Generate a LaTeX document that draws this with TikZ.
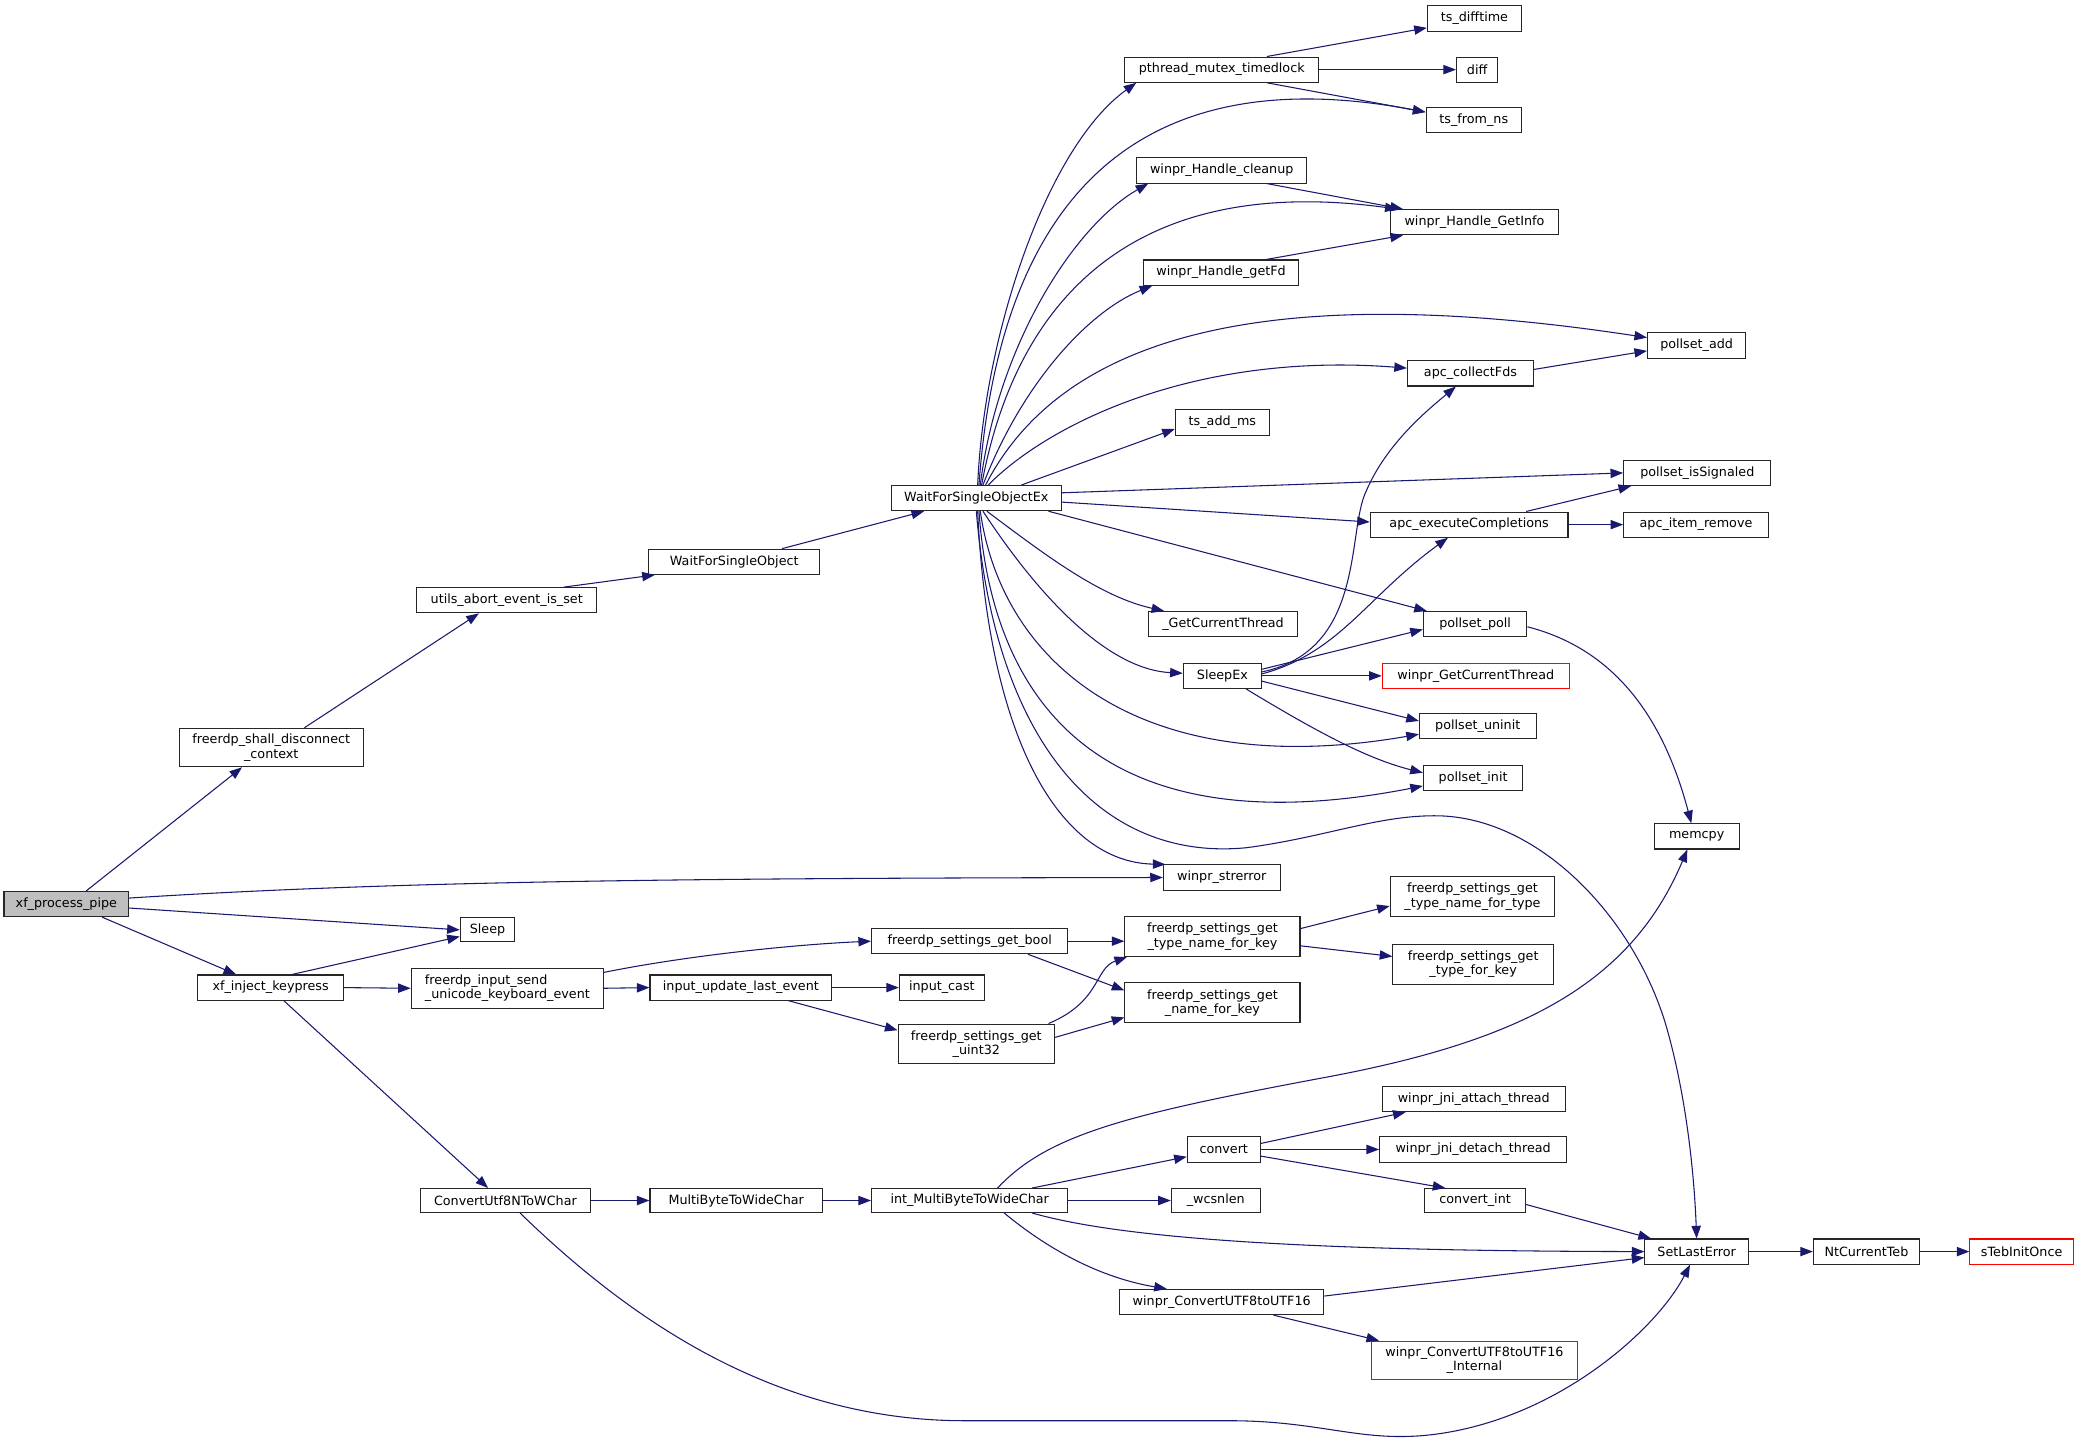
\documentclass[tikz,border=0pt]{standalone}
\usepackage{fontspec}
\setmainfont{DejaVu Sans}
\usetikzlibrary{arrows.meta}
\definecolor{edgec}{RGB}{25,25,112}
\definecolor{redc}{RGB}{255,0,0}
\definecolor{fillg}{RGB}{191,191,191}
\tikzset{
 box/.style={draw=black!85, line width=0.8pt, inner sep=0pt, align=center, font=\fontsize{9.6}{10.8}\selectfont, fill=white},
 redbox/.style={draw=redc},
 edge/.style={draw=edgec, line width=0.8pt, -{Triangle[length=9.5pt,width=7pt]}},
}
\newcommand\nd[7][]{\node[box,#1,minimum width={(#4-#3)*1pt},minimum height={(#6-#5)*1pt}] (#2) at ({(#3+#4)/2},{(#5+#6)/2}) {#7};}
\begin{document}
\begin{tikzpicture}[x=1pt,y=-1pt]
\path[use as bounding box, fill=white] (0,0) rectangle (1568,1086);
% nodes
\nd[fill=fillg]{pipe}{3}{97}{672}{691}{xf\_process\_pipe}
\nd{shall}{135}{274}{549}{578}{freerdp\_shall\_disconnect\\\_context}
\nd{utils}{314}{450}{443}{462}{utils\_abort\_event\_is\_set}
\nd{wfso}{489}{618}{414}{433}{WaitForSingleObject}
\nd{wfsoex}{672}{800}{366}{385}{WaitForSingleObjectEx}
\nd{ptml}{848}{994}{43}{62}{pthread\_mutex\_timedlock}
\nd{tsdiff}{1076}{1147}{4}{24}{ts\_difftime}
\nd{diff}{1098}{1129}{43}{62}{diff}
\nd{tsfrom}{1075}{1147}{81}{100}{ts\_from\_ns}
\nd{hclean}{857}{985}{119}{138}{winpr\_Handle\_cleanup}
\nd{hinfo}{1048}{1175}{158}{177}{winpr\_Handle\_GetInfo}
\nd{hgetfd}{862}{979}{196}{215}{winpr\_Handle\_getFd}
\nd{padd}{1242}{1316}{251}{270}{pollset\_add}
\nd{collect}{1061}{1156}{272}{291}{apc\_collectFds}
\nd{tsadd}{886}{957}{309}{328}{ts\_add\_ms}
\nd{psig}{1224}{1335}{347}{366}{pollset\_isSignaled}
\nd{apcexec}{1033}{1182}{386}{405}{apc\_executeCompletions}
\nd{apcrem}{1224}{1333}{386}{405}{apc\_item\_remove}
\nd{gct}{866}{978}{461}{480}{\_GetCurrentThread}
\nd{ppoll}{1073}{1151}{461}{480}{pollset\_poll}
\nd{sleepex}{892}{951}{500}{519}{SleepEx}
\nd[redbox]{wgct}{1042}{1183}{500}{519}{winpr\_GetCurrentThread}
\nd{puninit}{1070}{1158}{538}{557}{pollset\_uninit}
\nd{pinit}{1073}{1148}{577}{596}{pollset\_init}
\nd{memcpy}{1247}{1311}{621}{640}{memcpy}
\nd{strerror}{877}{965}{652}{671}{winpr\_strerror}
\nd{sleep}{347}{388}{692}{710}{Sleep}
\nd{inject}{149}{259}{735}{754}{xf\_inject\_keypress}
\nd[align=left]{sendkb}{310}{455}{730}{760}{freerdp\_input\_send\\\_unicode\_keyboard\_event}
\nd{update}{490}{627}{735}{754}{input\_update\_last\_event}
\nd{getbool}{657}{805}{700}{719}{freerdp\_settings\_get\_bool}
\nd{inputcast}{678}{742}{735}{754}{input\_cast}
\nd{getuint}{677}{795}{772}{802}{freerdp\_settings\_get\\\_uint32}
\nd{tnfk}{848}{980}{691}{721}{freerdp\_settings\_get\\\_type\_name\_for\_key}
\nd{nfk}{848}{980}{741}{771}{freerdp\_settings\_get\\\_name\_for\_key}
\nd{tnft}{1048}{1172}{661}{691}{freerdp\_settings\_get\\\_type\_name\_for\_type}
\nd{tfk}{1050}{1171}{712}{742}{freerdp\_settings\_get\\\_type\_for\_key}
\nd{cu8}{317}{445}{896}{914}{ConvertUtf8NToWChar}
\nd{mbtwc}{490}{620}{896}{914}{MultiByteToWideChar}
\nd{imbtwc}{657}{805}{896}{914}{int\_MultiByteToWideChar}
\nd{attach}{1042}{1180}{819}{838}{winpr\_jni\_attach\_thread}
\nd{convert}{895}{950}{857}{876}{convert}
\nd{detach}{1040}{1181}{857}{876}{winpr\_jni\_detach\_thread}
\nd{wcsnlen}{883}{950}{896}{914}{\_wcsnlen}
\nd{convint}{1074}{1150}{896}{914}{convert\_int}
\nd{sle}{1240}{1318}{934}{953}{SetLastError}
\nd{ntteb}{1367}{1447}{934}{953}{NtCurrentTeb}
\nd[redbox]{steb}{1485}{1563}{934}{953}{sTebInitOnce}
\nd{cu16}{844}{998}{972}{991}{winpr\_ConvertUTF8toUTF16}
\nd[redbox]{cu16i}{1034}{1189}{1011}{1040}{winpr\_ConvertUTF8toUTF16\\\_Internal}
% edges: left part
\draw[edge] ([xshift=15pt]pipe.north) -- ([xshift=-22pt]shall.south);
\draw[edge] ([yshift=4.5pt]pipe.east) .. controls (300,664) and (520,662) .. (strerror.west);
\draw[edge] ([yshift=-3pt]pipe.east) -- (sleep.west);
\draw[edge] ([xshift=27pt]pipe.south) -- ([xshift=-26pt]inject.north);
\draw[edge] ([xshift=25pt]shall.north) -- ([xshift=-21pt]utils.south);
\draw[edge] ([xshift=43pt]utils.north) -- ([xshift=5pt]wfso.south west);
\draw[edge] ([xshift=36pt]wfso.north) -- ([xshift=25pt]wfsoex.south west);
% WaitForSingleObjectEx fan up
\draw[edge] ([xshift=1pt]wfsoex.north) .. controls (742,250) and (790,110) .. ([xshift=9pt]ptml.south west);
\draw[edge] ([xshift=2pt]wfsoex.north) .. controls (752,170) and (840,40) .. ([yshift=6pt]tsfrom.west);
\draw[edge] ([xshift=3pt]wfsoex.north) .. controls (752,260) and (810,170) .. ([xshift=9pt]hclean.south west);
\draw[edge] ([xshift=4pt]wfsoex.north) .. controls (765,230) and (850,130) .. ([xshift=6pt]hinfo.north west);
\draw[edge] ([xshift=5pt]wfsoex.north) .. controls (770,290) and (820,235) .. ([xshift=7pt]hgetfd.south west);
\draw[edge] ([xshift=7pt]wfsoex.north) .. controls (800,255) and (950,210) .. ([yshift=6pt]padd.west);
\draw[edge] ([xshift=9pt]wfsoex.north) .. controls (790,320) and (900,265) .. ([yshift=4pt]collect.west);
\draw[edge] ([xshift=34pt]wfsoex.north) -- ([yshift=5pt]tsadd.south west);
\draw[edge] ([yshift=4pt]wfsoex.east) -- (psig.west);
\draw[edge] ([yshift=-3pt]wfsoex.east) -- ([yshift=2pt]apcexec.west);
\draw[edge] ([xshift=-10pt]wfsoex.south east) -- ([xshift=3pt]ppoll.north west);
% fan down
\draw[edge] ([xshift=8pt]wfsoex.south) .. controls (790,420) and (830,450) .. ([xshift=12pt]gct.north west);
\draw[edge] ([xshift=5pt]wfsoex.south) .. controls (790,460) and (840,505) .. ([yshift=2pt]sleepex.west);
\draw[edge] ([xshift=3pt]wfsoex.south) .. controls (755,500) and (860,590) .. ([yshift=-6pt]puninit.west);
\draw[edge] ([xshift=2pt]wfsoex.south) .. controls (748,530) and (830,640) .. ([yshift=-6pt]pinit.west);
\draw[edge] ([xshift=1pt]wfsoex.south) .. controls (745,560) and (800,650) .. ([xshift=2pt]strerror.north west);
\draw[edge] (wfsoex.south) .. controls (750,560) and (830,650) .. (940,639) .. controls (1000,631) and (1040,614) .. (1085,615) .. controls (1160,617) and (1230,690) .. (1255,770) .. controls (1270,820) and (1277,880) .. (sle.north);
% right upper
\draw[edge] ([xshift=34pt]ptml.north) -- ([yshift=-7pt]tsdiff.west);
\draw[edge] (ptml.east) -- (diff.west);
\draw[edge] ([xshift=34pt]ptml.south) -- ([yshift=6pt]tsfrom.west);
\draw[edge] ([xshift=34pt]hclean.south) -- ([xshift=10pt]hinfo.north west);
\draw[edge] ([xshift=34pt]hgetfd.north) -- ([xshift=10pt]hinfo.south west);
\draw[edge] ([yshift=3pt]collect.east) -- ([yshift=-4pt]padd.west);
\draw[edge] ([xshift=43pt]apcexec.north) -- ([xshift=6pt]psig.south west);
\draw[edge] (apcexec.east) -- (apcrem.west);
\draw[edge] ([yshift=-2pt]ppoll.east) .. controls (1220,490) and (1255,545) .. ([xshift=-4pt]memcpy.north);
% SleepEx
\draw[edge] ([yshift=3pt]sleepex.east) .. controls (1030,490) and (1015,400) .. (1030,370) .. controls (1045,335) and (1075,310) .. ([xshift=-11pt]collect.south);
\draw[edge] ([yshift=1.5pt]sleepex.east) .. controls (1010,492) and (1030,450) .. ([xshift=-16pt]apcexec.south);
\draw[edge] ([yshift=5pt]sleepex.east) -- ([yshift=-4pt]ppoll.west);
\draw[edge] (sleepex.east) -- (wgct.west);
\draw[edge] ([yshift=-4pt]sleepex.east) -- ([yshift=4pt]puninit.west);
\draw[edge] ([xshift=-12pt]sleepex.south east) .. controls (990,550) and (1030,572) .. ([yshift=4pt]pinit.west);
% lower left
\draw[edge] ([xshift=16pt]inject.north) -- ([yshift=-5pt]sleep.west);
\draw[edge] (inject.east) -- (sendkb.west);
\draw[edge] ([xshift=10pt]inject.south) -- ([xshift=-13pt]cu8.north);
\draw[edge] ([yshift=12pt]sendkb.east) .. controls (520,720) and (600,712) .. (getbool.west);
\draw[edge] (sendkb.east) -- (update.west);
\draw[edge] (update.east) -- (inputcast.west);
\draw[edge] ([xshift=36pt]update.south) -- ([yshift=-5pt]getuint.north west);
\draw[edge] (getbool.east) -- ([yshift=-3.5pt]tnfk.west);
\draw[edge] ([xshift=44pt]getbool.south) -- ([yshift=-6pt]nfk.north west);
\draw[edge] ([xshift=-5pt]getuint.north east) .. controls (830,755) and (825,730) .. ([xshift=2pt]tnfk.south west);
\draw[edge] ([yshift=5pt]getuint.east) -- ([yshift=-11pt]nfk.west);
\draw[edge] ([yshift=6pt]tnfk.east) -- ([yshift=-7pt]tnft.west);
\draw[edge] ([yshift=-7pt]tnfk.east) -- ([yshift=6pt]tfk.west);
% bottom
\draw[edge] (cu8.east) -- (mbtwc.west);
\draw[edge] ([xshift=11pt]cu8.south) .. controls (470,990) and (580,1071) .. (727,1071) -- (927,1071) .. controls (1000,1071) and (1030,1090) .. (1090,1080) .. controls (1180,1065) and (1250,1000) .. ([xshift=-5pt]sle.south);
\draw[edge] (mbtwc.east) -- (imbtwc.west);
\draw[edge] ([xshift=21pt]imbtwc.north) .. controls (790,855) and (850,840) .. (1000,812) .. controls (1150,784) and (1230,740) .. ([xshift=-7pt]memcpy.south);
\draw[edge] ([xshift=47pt]imbtwc.north) -- ([yshift=-5.5pt]convert.west);
\draw[edge] (imbtwc.east) -- (wcsnlen.west);
\draw[edge] ([xshift=47pt]imbtwc.south) .. controls (850,935) and (1000,943) .. (sle.west);
\draw[edge] ([xshift=26pt]imbtwc.south) .. controls (800,950) and (840,965) .. ([xshift=36pt]cu16.north west);
\draw[edge] ([yshift=4.5pt]convert.east) -- ([xshift=18pt]attach.south west);
\draw[edge] (convert.east) -- (detach.west);
\draw[edge] ([yshift=-5pt]convert.east) -- ([xshift=16pt]convint.north west);
\draw[edge] ([yshift=-3pt]convint.east) -- ([xshift=5pt]sle.north west);
\draw[edge] ([yshift=4.5pt]cu16.east) -- ([yshift=-4.5pt]sle.west);
\draw[edge] ([xshift=39pt]cu16.south) -- ([xshift=6pt]cu16i.north west);
\draw[edge] (sle.east) -- (ntteb.west);
\draw[edge] (ntteb.east) -- (steb.west);
\end{tikzpicture}
\end{document}
